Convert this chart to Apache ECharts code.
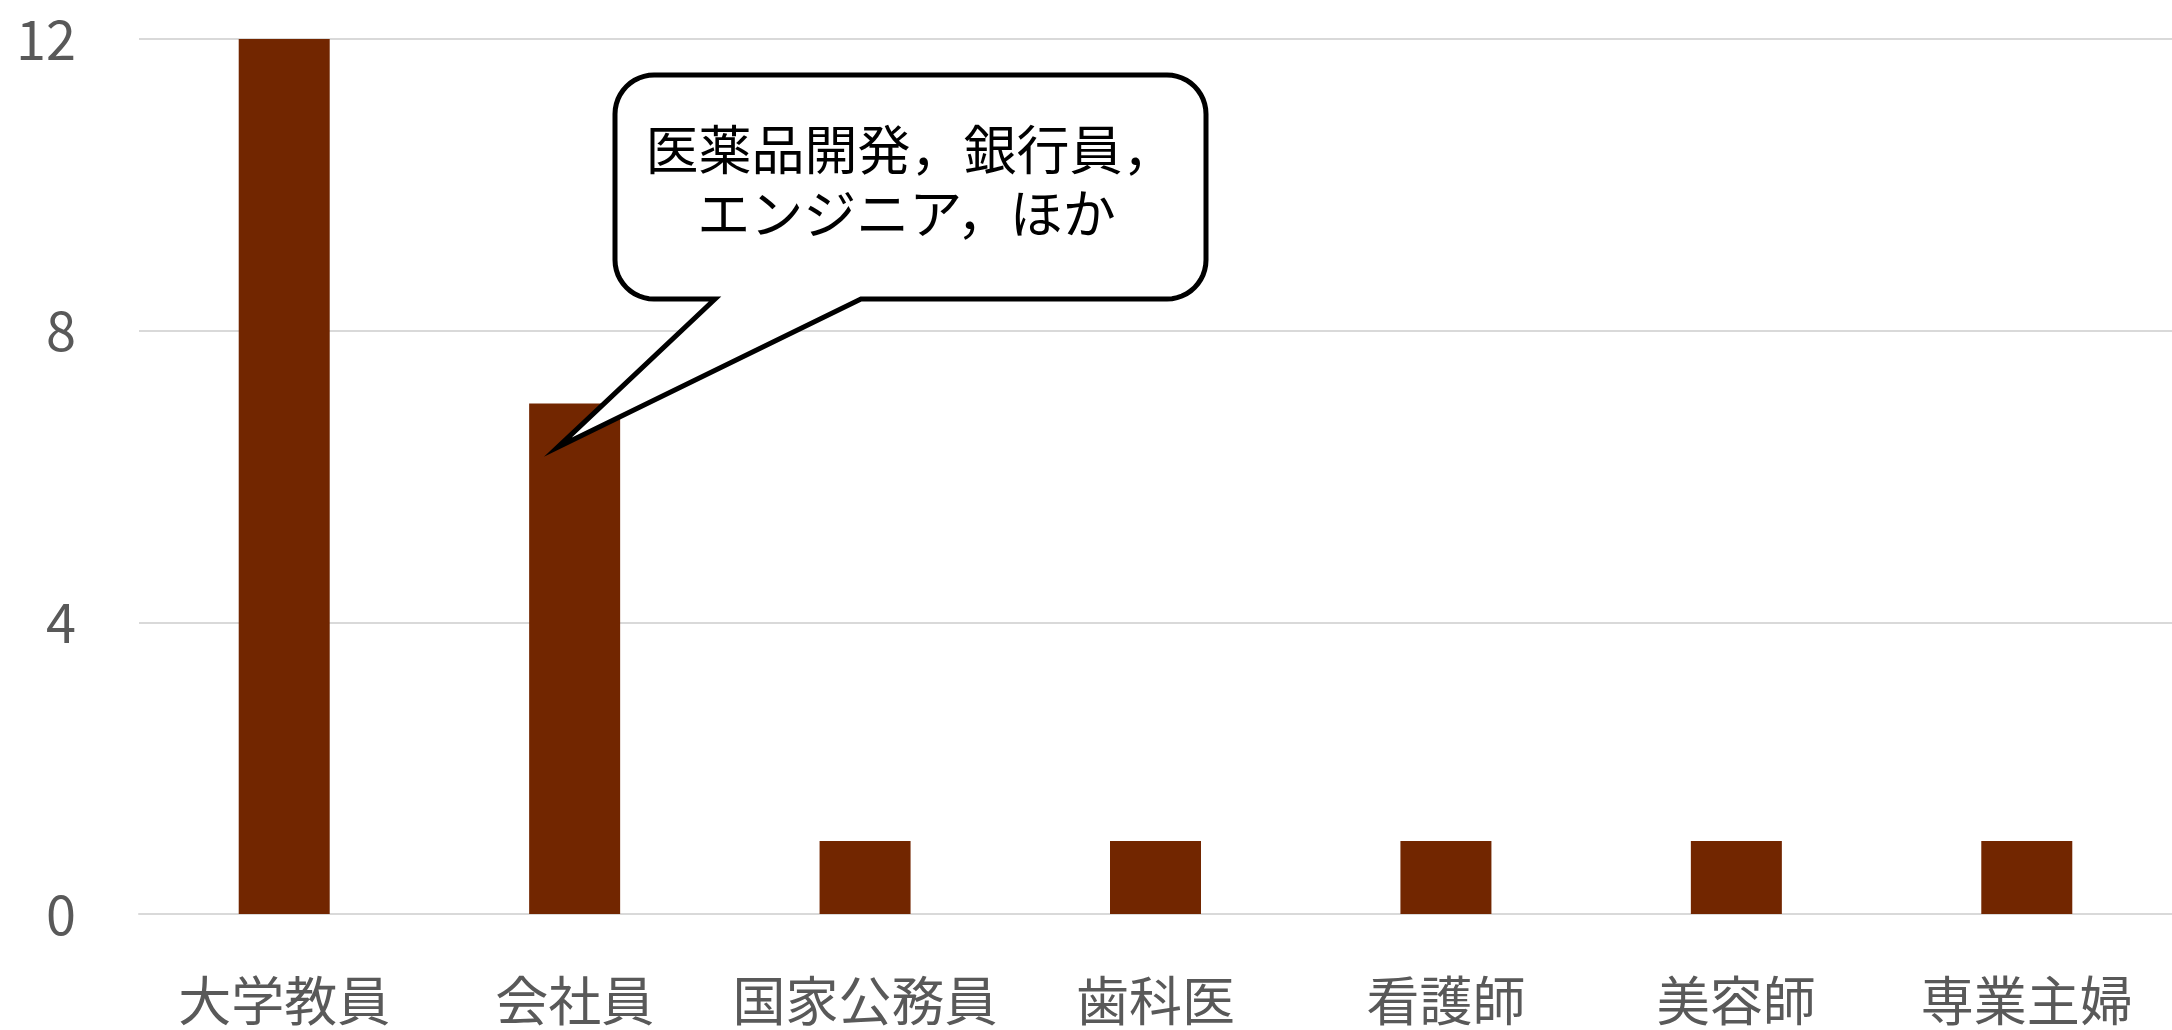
<!DOCTYPE html>
<html>
<head>
<meta charset="utf-8">
<script src="https://cdn.jsdelivr.net/npm/echarts@6/dist/echarts.min.js"></script>
<style>
  html, body { margin: 0; padding: 0; background: #ffffff; }
  #chart { width: 2172px; height: 1030px; }
</style>
</head>
<body>
<div id="chart"></div>
<script>
// Occupations and head counts
const categories = ['大学教員', '会社員', '国家公務員', '歯科医', '看護師', '美容師', '専業主婦'];
const counts = [12, 7, 1, 1, 1, 1, 1];
const yTicks = [0, 4, 8, 12];
const calloutLines = ['医薬品開発，銀行員，', 'エンジニア，ほか'];

const FONT = '"Noto Sans CJK JP", "Noto Sans", sans-serif';
const chart = echarts.init(document.getElementById('chart'), null, { renderer: 'canvas' });

chart.setOption({
  animation: false,
  backgroundColor: '#ffffff',
  grid: { left: 139, right: 0, top: 39, bottom: 116, containLabel: false },
  xAxis: {
    type: 'category',
    data: categories,
    axisLine: { show: true, lineStyle: { color: '#d9d9d9', width: 2 } },
    axisTick: { show: false },
    axisLabel: { interval: 0, color: '#595959', fontSize: 53, fontFamily: FONT, margin: 60 }
  },
  yAxis: {
    type: 'value',
    min: yTicks[0],
    max: yTicks[yTicks.length - 1],
    interval: yTicks[1] - yTicks[0],
    axisLine: { show: false },
    axisTick: { show: false },
    splitLine: { lineStyle: { color: '#d9d9d9', width: 2 } },
    axisLabel: { color: '#595959', fontSize: 54, fontFamily: FONT, margin: 63 }
  },
  series: [{
    type: 'bar',
    data: counts,
    barWidth: 91,
    itemStyle: { color: '#722600' }
  }]
});

// Speech-bubble callout pointing into the 会社員 bar
const tip = chart.convertToPixel({ gridIndex: 0 }, [1, 6.4]);
const tipX = tip[0] - 17, tipY = tip[1];
const L = 615, R = 1206, T = 75, B = 299, r = 39;
const baseL = 715, baseR = 861;

// Quarter-circle corner from angle a0 to a1 around (cx, cy)
function corner(cx, cy, a0, a1) {
  const pts = [];
  const n = 12;
  for (let i = 0; i <= n; i++) {
    const a = a0 + (a1 - a0) * i / n;
    pts.push([cx + r * Math.cos(a), cy + r * Math.sin(a)]);
  }
  return pts;
}
const PI = Math.PI;
const outline = [].concat(
  corner(R - r, T + r, -PI / 2, 0),          // top-right
  corner(R - r, B - r, 0, PI / 2),           // bottom-right
  [[baseR, B], [tipX, tipY], [baseL, B]],    // tail
  corner(L + r, B - r, PI / 2, PI),          // bottom-left
  corner(L + r, T + r, PI, PI * 1.5)         // top-left
);

chart.setOption({
  graphic: [
    {
      type: 'polygon',
      shape: { points: outline },
      style: { fill: '#ffffff', stroke: '#000000', lineWidth: 5, lineJoin: 'miter', miterLimit: 20 },
      z: 100
    },
    {
      type: 'text',
      x: (L + R) / 2,
      y: 150,
      style: { text: calloutLines[0], font: '53px ' + FONT, fill: '#000000', align: 'center', verticalAlign: 'middle' },
      z: 101
    },
    {
      type: 'text',
      x: (L + R) / 2 - 4,
      y: 214,
      style: { text: calloutLines[1], font: '53px ' + FONT, fill: '#000000', align: 'center', verticalAlign: 'middle' },
      z: 101
    }
  ]
});
</script>
</body>
</html>
